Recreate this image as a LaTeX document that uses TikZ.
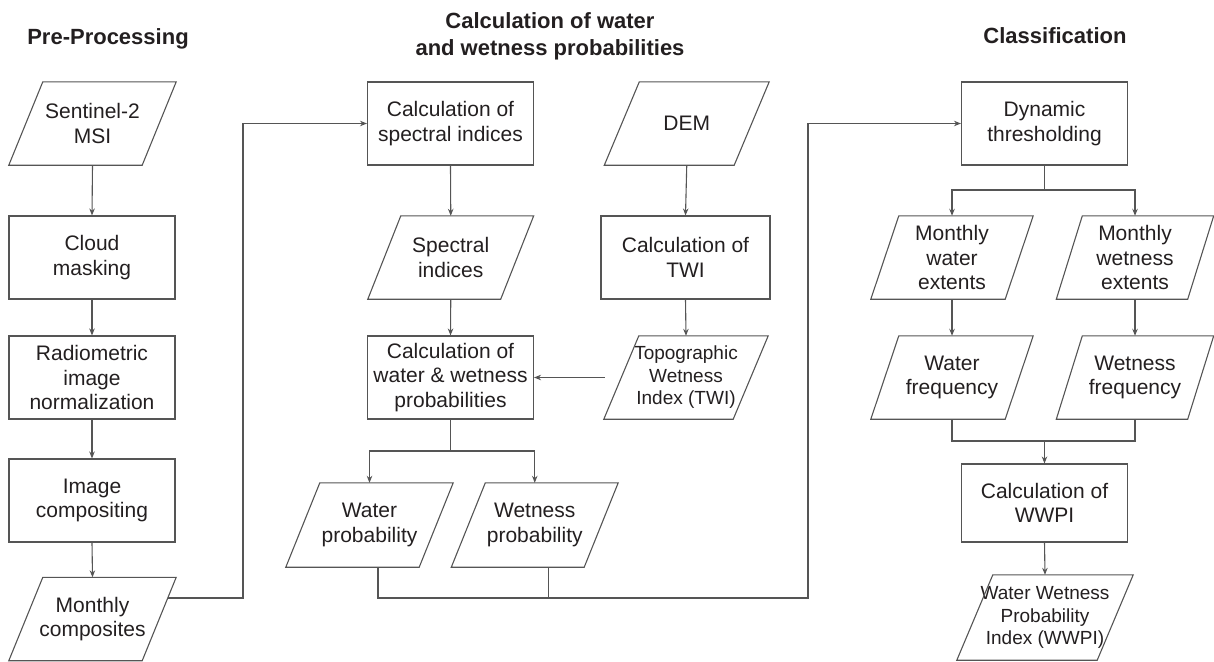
\documentclass[tikz,border=0pt]{standalone}
\usepackage{fontspec}
\setmainfont{Liberation Sans}
\usetikzlibrary{calc,arrows.meta}
\definecolor{linegray}{HTML}{555555}
\definecolor{txt}{HTML}{231F20}
\begin{document}
\begin{tikzpicture}[x=1pt,y=-1pt,
  line/.style={draw=linegray, line width=1.1pt},
  arr/.style={line, -{Stealth[length=7pt,width=5.5pt]}},
  procbox/.style={draw=linegray, line width=1.1pt, rectangle, minimum width=166pt, minimum height=83pt, inner sep=0pt, align=center, text=txt, font=\fontsize{21}{24.5}\selectfont},
  iobox/.style={rectangle, minimum width=133pt, minimum height=83pt, inner sep=0pt, align=center, text=txt, font=\fontsize{21}{24.5}\selectfont},
  smalltext/.style={font=\fontsize{19}{22.5}\selectfont},
  title/.style={align=center, text=txt, font=\fontsize{22}{27}\selectfont\bfseries},
]
\useasboundingbox (0,0) rectangle (1214,661);

% titles
\node[title, anchor=base] (t1) at (108,45) {Pre-Processing};
\node[title] (t2) at (550,36) {Calculation of water\\and wetness probabilities};
\node[title, anchor=base] (t3) at (1055,44) {Classification};

% left column
\node[iobox] (sen) at (92.5,123.5) {Sentinel-2\\MSI};
\node[procbox] (cloud) at (92,257.5) {Cloud\\masking};
\node[procbox] (radio) at (92,377.5) {Radiometric\\image\\normalization};
\node[procbox] (imgc) at (92,500.5) {Image\\compositing};
\node[iobox] (mc) at (92.5,619) {Monthly\\composites};

% middle column
\node[procbox] (calcspec) at (450.5,123.5) {Calculation of\\spectral indices};
\node[iobox, minimum width=132.5pt] (si) at (450.75,257.5) {Spectral\\indices};
\node[procbox] (calcww) at (450.5,377.5) {Calculation of\\water \& wetness\\probabilities};
\node[iobox, minimum height=84pt] (wp) at (369.5,525) {Water\\probability};
\node[iobox, minimum width=132.5pt, minimum height=84pt] (wep) at (534.75,525) {Wetness\\probability};

% DEM column
\node[iobox, minimum width=129.5pt] (dem) at (686.75,123.5) {DEM};
\node[procbox, minimum width=169pt] (calctwi) at (685.5,257.5) {Calculation of\\TWI};
\node[iobox, minimum width=129pt, smalltext] (twi) at (686,377.5) {Topographic\\Wetness\\Index (TWI)};

% right column
\node[procbox] (dyn) at (1044.5,123.5) {Dynamic\\thresholding};
\node[iobox, minimum width=134pt] (mwa) at (952,257.5) {Monthly\\water\\extents};
\node[iobox, minimum width=131pt] (mwe) at (1135,257.5) {Monthly\\wetness\\extents};
\node[iobox, minimum width=134pt] (wf) at (952,377.5) {Water\\frequency};
\node[iobox, minimum width=131pt] (wef) at (1135,377.5) {Wetness\\frequency};
\node[procbox, minimum height=78pt] (calcwwpi) at (1044.5,503) {Calculation of\\WWPI};
\node[iobox, minimum width=140pt, minimum height=85pt, smalltext] (wwpi) at (1045,617.5) {Water Wetness\\Probability\\Index (WWPI)};

% parallelogram outlines
\foreach \n/\s in {sen/17,mc/17,si/16.5,wp/17,wep/17,dem/17.5,twi/17.5,mwa/14,mwe/13,wf/14,wef/13,wwpi/18}{
  \draw[line] ($(\n.south west)+(-\s,0)$) -- ($(\n.south east)+(-\s,0)$)
    -- ($(\n.north east)+(\s,0)$) -- ($(\n.north west)+(\s,0)$) -- cycle;
}

% left column connectors
\draw[arr] (sen.south) -- (cloud.north);
\draw[arr] (cloud.south) -- (radio.north);
\draw[arr] (radio.south) -- (imgc.north);
\draw[arr] (imgc.south) -- (mc.north);
\coordinate (j1) at (243,598);
\draw[arr] ($(mc.east)+(8.7,-21)$) -- (j1) |- (calcspec.west);

% middle connectors
\draw[arr] (calcspec.south) -- (si.north);
\draw[arr] (si.south) -- (calcww.north);
\coordinate (s1) at (450.5,451);
\draw[line] (calcww.south) -- (s1);
\draw[arr] (s1) -| (wp.north);
\draw[arr] (s1) -| (wep.north);

% DEM connectors
\draw[arr] (dem.south) -- (calctwi.north);
\draw[arr] (calctwi.south) -- (twi.north);
\draw[arr] ($(twi.west)+(-16.5,0)$) -- (calcww.east);

% to classification
\coordinate (j2) at (808,598);
\draw[line] ($(wep.south)+(14,0)$) |- (j2);
\draw[arr] ($(wp.south)+(8.5,0)$) |- (j2) |- (dyn.west);

% right connectors
\coordinate (s2) at (1044.5,190);
\draw[line] (dyn.south) -- (s2);
\draw[arr] (s2) -| (mwa.north);
\draw[arr] (s2) -| (mwe.north);
\draw[arr] (mwa.south) -- (wf.north);
\draw[arr] (mwe.south) -- (wef.north);
\coordinate (s3) at (1044.5,441);
\draw[line] (wf.south) |- (s3);
\draw[line] (wef.south) |- (s3);
\draw[arr] (s3) -- (calcwwpi.north);
\draw[arr] (calcwwpi.south) -- (wwpi.north);
\end{tikzpicture}
\end{document}
